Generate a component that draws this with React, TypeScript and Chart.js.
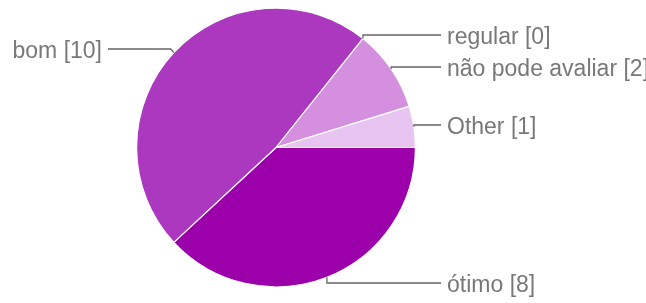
import React, { useEffect, useRef } from "react";
import { Chart, registerables } from "chart.js";

Chart.register(...registerables);

const categories = ["ótimo", "bom", "regular", "não pode avaliar", "Other"];
const counts = [8, 10, 0, 2, 1];
const sliceColors = ["#9b00aa", "#ac38c0", "#b85fd0", "#d48fde", "#e8c4f0"];

// label anchor rows (y of horizontal leader) for each category
const leaderY = [283, 49, 35, 67, 125];

const leaderPlugin = {
  id: "leaders",
  afterDraw(chart: any) {
    const ctx = chart.ctx;
    const meta = chart.getDatasetMeta(0);
    ctx.save();
    ctx.font = "23px 'Liberation Sans', Arial, sans-serif";
    ctx.textBaseline = "middle";
    meta.data.forEach((arc: any, i: number) => {
      const mid = (arc.startAngle + arc.endAngle) / 2;
      const px = arc.x + Math.cos(mid) * arc.outerRadius;
      const py = arc.y + Math.sin(mid) * arc.outerRadius;
      const ly = leaderY[i];
      const right = Math.cos(mid) >= 0 || i === 0;
      ctx.strokeStyle = "#666666";
      ctx.lineWidth = 1.3;
      ctx.beginPath();
      const label = `${categories[i]} [${counts[i]}]`;
      if (right) {
        const endX = 441;
        ctx.moveTo(px, py);
        if (i === 0) {
          ctx.lineTo(px, ly);
        }
        ctx.lineTo(px, ly);
        ctx.lineTo(endX, ly);
        ctx.stroke();
        ctx.fillStyle = "#787878";
        ctx.textAlign = "left";
        ctx.fillText(label, endX + 6, ly + 3);
      } else {
        const endX = 108;
        ctx.moveTo(px, py);
        ctx.lineTo(px - 3, ly);
        ctx.lineTo(endX, ly);
        ctx.stroke();
        ctx.fillStyle = "#787878";
        ctx.textAlign = "right";
        ctx.fillText(label, endX - 6, ly + 3);
      }
    });
    ctx.restore();
  },
};

export default function App() {
  const ref = useRef<HTMLCanvasElement | null>(null);
  useEffect(() => {
    document.body.style.margin = "0";
    const chart = new Chart(ref.current as HTMLCanvasElement, {
      type: "pie",
      data: {
        labels: categories,
        datasets: [
          {
            data: counts,
            backgroundColor: sliceColors,
            borderColor: "#ffffff",
            borderWidth: 1.2,
          },
        ],
      },
      options: {
        responsive: false,
        animation: false,
        rotation: 90,
        layout: { padding: { left: 136, right: 230, top: 7.5, bottom: 15.5 } },
        plugins: {
          legend: { display: false },
          tooltip: { enabled: false },
        },
      },
      plugins: [leaderPlugin],
    });
    return () => chart.destroy();
  }, []);
  return (
    <div style={{ width: 646, height: 303, background: "#ffffff" }}>
      <canvas ref={ref} width={646} height={303} />
    </div>
  );
}
